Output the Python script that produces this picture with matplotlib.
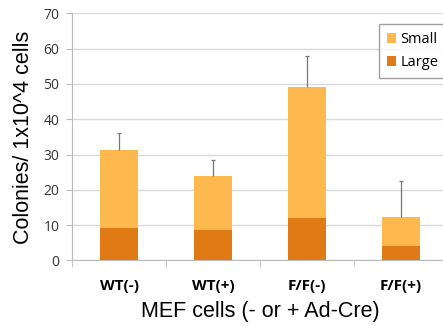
import matplotlib
matplotlib.use("Agg")
import matplotlib.pyplot as plt
import numpy as np

categories = ["WT(-)", "WT(+)", "F/F(-)", "F/F(+)"]
large = [9.2, 8.6, 12.0, 4.2]
small = [22.1, 15.4, 37.0, 8.1]
err_up = [4.7, 4.4, 9.0, 10.3]

SMALL_COLOR = "#FDB94E"
LARGE_COLOR = "#E07A14"

fig = plt.figure(figsize=(4.43, 3.26), dpi=100)
ax = fig.add_axes([72 / 443, 0.201, 376 / 443, 0.758])

x = np.arange(len(categories))
totals = np.array(large) + np.array(small)
tops = totals + np.array(err_up)
ax.bar(x, large, width=0.4, color=LARGE_COLOR, label="Large", zorder=3)
ax.bar(x, small, width=0.4, bottom=large, color=SMALL_COLOR, label="Small", zorder=3)
# error bars, upper side only
ax.vlines(x, totals, tops, color="#777777", linewidth=0.9, zorder=4)
ax.plot(x, tops, linestyle="none", marker="_", markersize=3, color="#777777",
        markeredgewidth=0.9, zorder=4)

ax.set_xlim(-0.5, 3.5)
ax.set_ylim(0, 70)
ax.set_yticks(range(0, 71, 10))
ax.yaxis.grid(True, color="#d9d9d9", linewidth=1.0, zorder=0)
ax.set_axisbelow(True)

for s in ["top", "right"]:
    ax.spines[s].set_visible(False)
ax.spines["left"].set_color("#bbbbbb")
ax.spines["bottom"].set_color("#bbbbbb")

ax.set_xticks(x)
ax.set_xticklabels(categories, fontsize=11, fontweight="bold", family="Open Sans")
ax.tick_params(axis="x", length=0, pad=13)
ax.set_xticks(np.arange(-0.5, 4.0, 1.0), minor=True)
ax.tick_params(axis="x", which="minor", length=5, color="#bbbbbb")
ax.tick_params(axis="y", length=4, color="#bbbbbb", labelsize=10, pad=5)
for lbl in ax.get_yticklabels():
    lbl.set_family("Open Sans")
    lbl.set_color("#333333")

ax.set_ylabel("Colonies/ 1x10^4 cells", fontsize=15.5, family="Liberation Sans", labelpad=7)
ax.set_xlabel("MEF cells (- or + Ad-Cre)", fontsize=15.5, family="Liberation Sans", labelpad=6)

handles, labels = ax.get_legend_handles_labels()
leg = fig.legend(handles[::-1], labels[::-1], loc="upper left",
                 bbox_to_anchor=(379 / 443, 1 - 24 / 326), prop={"family": "Open Sans", "size": 10.5},
                 handlelength=0.6, handleheight=0.6, handletextpad=0.3,
                 labelspacing=0.55, fancybox=False, borderpad=0.55, borderaxespad=0)
leg.get_frame().set_edgecolor("#888888")
leg.get_frame().set_linewidth(1.0)

fig.savefig("out.png", dpi=100)
